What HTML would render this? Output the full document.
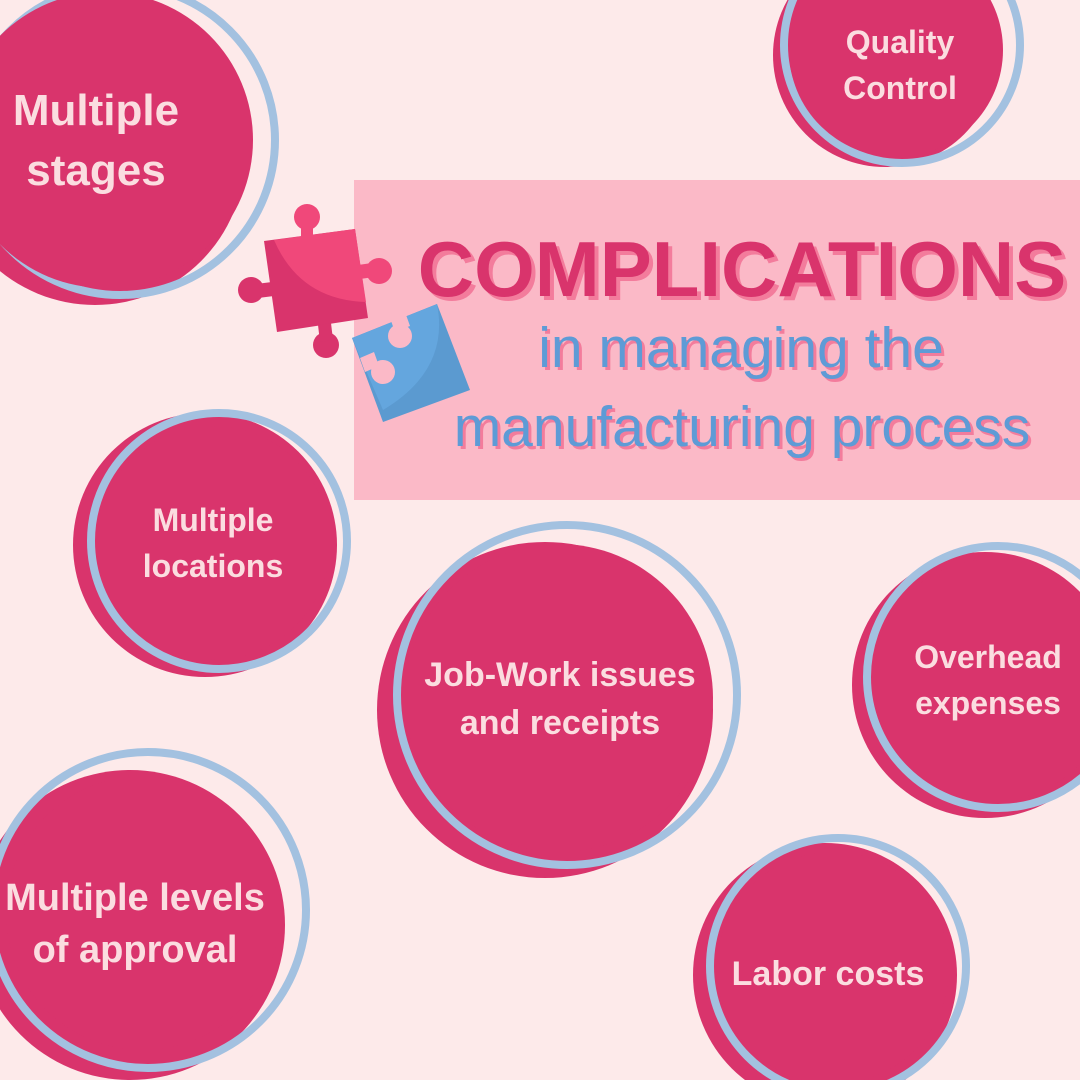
<!DOCTYPE html>
<html><head><meta charset="utf-8"><style>
html,body{margin:0;padding:0;background:#fdeaea}
svg{display:block}
text{font-family:"Liberation Sans",sans-serif}
</style></head><body>
<svg width="1080" height="1080" viewBox="0 0 1080 1080">
<rect width="1080" height="1080" fill="#fdeaea"/>
<rect x="354" y="180" width="726" height="320" fill="#fbb9c7"/>

<g id="circles"></g>

<g>
<polygon points="264,241 355,229 368,318 277,332" fill="#d9346c"/>
<path d="M274,240 L355,229 L366,302 Q300,300 274,240 Z" fill="#f0487a"/>
<circle cx="307" cy="217" r="13" fill="#f0487a"/>
<rect x="301" y="222" width="12" height="16" fill="#f0487a"/>
<circle cx="379" cy="271" r="13" fill="#f0487a"/>
<polygon points="358,265 372,263 374,277 360,279" fill="#f0487a"/>
<circle cx="251" cy="290" r="13" fill="#d9346c"/>
<polygon points="256,284 272,282 274,296 258,298" fill="#d9346c"/>
<circle cx="326" cy="345" r="13" fill="#d9346c"/>
<polygon points="318,325 331,323 333,340 320,342" fill="#d9346c"/>
</g>
<g>
<polygon points="352,338 437,304 470,390 383,422" fill="#5b9ad0"/>
<path d="M352,338 L437,304 Q450,370 383,410 Z" fill="#64a6de"/>
<circle cx="400" cy="336" r="12" fill="#fbb9c7"/>
<polygon points="390,318 405,312 410,326 395,332" fill="#fbb9c7"/>
<circle cx="383" cy="372" r="12" fill="#fbb9c7"/>
<polygon points="360,358 374,352 379,366 365,372" fill="#fbb9c7"/>
</g>

<g>
<text x="746" y="300" text-anchor="middle" font-size="78" font-weight="bold" fill="#f37c9c">COMPLICATIONS</text>
<text x="742" y="296" text-anchor="middle" font-size="78" font-weight="bold" fill="#d9346c">COMPLICATIONS</text>
<text x="744" y="370" text-anchor="middle" font-size="57" fill="#f37c9c">in managing the</text>
<text x="741" y="367" text-anchor="middle" font-size="57" fill="#5e9bd6">in managing the</text>
<text x="745" y="449" text-anchor="middle" font-size="57" fill="#f37c9c">manufacturing process</text>
<text x="742" y="446" text-anchor="middle" font-size="57" fill="#5e9bd6">manufacturing process</text>
</g>
</svg>
<script>
const labels=[["Multiple","stages"],["Quality","Control"],["Multiple","locations"],["Job-Work issues","and receipts"],["Overhead","expenses"],["Multiple levels","of approval"],["Labor costs"]];
const names=["multiple-stages","quality-control","multiple-locations","job-work","overhead-expenses","multiple-levels-approval","labor-costs"];
const circ=[
 {o:[95,155,150],r:[120,140,155],i:[105,140,148],t:[96,125],fs:44,lh:60},
 {o:[885,55,112],r:[902,45,118],i:[896,50,107],t:[900,53],fs:32,lh:46},
 {o:[205,545,132],r:[219,541,128],i:[213,543,117],t:[213,531],fs:32,lh:46},
 {o:[545,710,168],r:[567,695,170],i:[559,698,154],t:[560,686],fs:34,lh:48},
 {o:[985,685,133],r:[998,677,131],i:[993,680,121],t:[988,668],fs:32,lh:46},
 {o:[130,925,155],r:[148,910,158],i:[143,913,137],t:[135,910],fs:38,lh:52},
 {o:[825,975,132],r:[838,966,128],i:[833,968,116],t:[828,985],fs:34,lh:48}];
const g=document.getElementById('circles');const NS="http://www.w3.org/2000/svg";
circ.forEach((c,k)=>{
 const grp=document.createElementNS(NS,'g');
 
 
 const a=document.createElementNS(NS,'circle');a.setAttribute('cx',c.o[0]);a.setAttribute('cy',c.o[1]);a.setAttribute('r',c.o[2]);a.setAttribute('fill','#d9346c');grp.appendChild(a);
 const b=document.createElementNS(NS,'circle');b.setAttribute('cx',c.r[0]);b.setAttribute('cy',c.r[1]);b.setAttribute('r',c.r[2]);b.setAttribute('fill','none');b.setAttribute('stroke','#a3c1e0');b.setAttribute('stroke-width','8');grp.appendChild(b);
 const d=document.createElementNS(NS,'circle');d.setAttribute('cx',c.i[0]);d.setAttribute('cy',c.i[1]);d.setAttribute('r',c.i[2]);d.setAttribute('fill','#d9346c');grp.appendChild(d);
 labels[k].forEach((s,j)=>{const t=document.createElementNS(NS,'text');t.setAttribute('x',c.t[0]);t.setAttribute('y',c.t[1]+j*c.lh);t.setAttribute('text-anchor','middle');t.setAttribute('font-size',c.fs);t.setAttribute('font-weight','bold');t.setAttribute('fill','#fbdde0');t.textContent=s;
 
 
 grp.appendChild(t);});
 g.appendChild(grp);
});
</script>
</body></html>
